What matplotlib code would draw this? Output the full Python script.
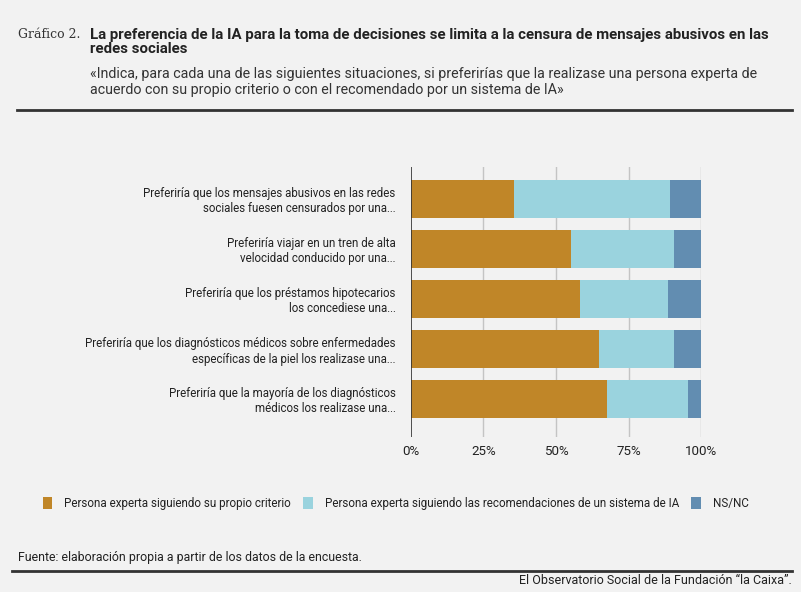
import matplotlib.pyplot as plt
from matplotlib.lines import Line2D
from matplotlib.patches import Patch

plt.rcParams['font.family'] = ['Roboto', 'DejaVu Sans']

categories = [
    "Preferiría que los mensajes abusivos en las redes\nsociales fuesen censurados por una...",
    "Preferiría viajar en un tren de alta\nvelocidad conducido por una...",
    "Preferiría que los préstamos hipotecarios\nlos concediese una...",
    "Preferiría que los diagnósticos médicos sobre enfermedades\nespecíficas de la piel los realizase una...",
    "Preferiría que la mayoría de los diagnósticos\nmédicos los realizase una...",
]
propio = [35.6, 55.2, 58.3, 64.9, 67.5]
sistema_ia = [53.6, 35.3, 30.2, 25.6, 27.8]
ns_nc = [10.8, 9.5, 11.5, 9.5, 4.7]
series_names = [
    "Persona experta siguiendo su propio criterio",
    "Persona experta siguiendo las recomendaciones de un sistema de IA",
    "NS/NC",
]
colors = ["#c08628", "#9ad3de", "#628db1"]
bg = "#f2f2f2"

W, H = 801, 592
fig = plt.figure(figsize=(W / 100, H / 100), dpi=100, facecolor=bg)

def fx(px):
    return px / W

def fy(py):
    return 1 - py / H

ax = fig.add_axes([fx(410.7), fy(437), fx(701.3 - 410.7), (437 - 167) / H])
ax.set_facecolor(bg)

ypos = list(range(len(categories)))
left = [0] * len(categories)
for vals, col in zip([propio, sistema_ia, ns_nc], colors):
    ax.barh(ypos, vals, left=left, height=0.75, color=col, zorder=3)
    left = [a + b for a, b in zip(left, vals)]

ax.set_xlim(0, 100)
ax.set_ylim(4.76, -0.64)
ax.set_xticks([0, 25, 50, 75, 100])
ax.set_xticklabels(["0%", "25%", "50%", "75%", "100%"], fontsize=9.6, color="#222222")
ax.set_yticks(ypos)
ax.set_yticklabels(categories, fontsize=8.3, color="#222222", multialignment="right")
ax.tick_params(length=0, pad=11)
ax.tick_params(axis="x", pad=6)
for s in ax.spines.values():
    s.set_visible(False)
for x in [25, 50, 75, 100]:
    ax.axvline(x, color="#c4c4c4", lw=1, zorder=1)
ax.axvline(0, color="#333333", lw=1.2, zorder=4)

# header
fig.text(fx(18), fy(35), "Gráfico 2.", family="DejaVu Serif", fontsize=9, color="#333333", va="center")
fig.text(fx(90), fy(42), "La preferencia de la IA para la toma de decisiones se limita a la censura de mensajes abusivos en las\nredes sociales",
         fontsize=10.8, fontweight="bold", color="#222222", va="center", linespacing=1.05)
fig.text(fx(90), fy(82), "«Indica, para cada una de las siguientes situaciones, si preferirías que la realizase una persona experta de\nacuerdo con su propio criterio o con el recomendado por un sistema de IA»",
         fontsize=10.3, color="#333333", va="center", linespacing=1.15)
fig.add_artist(Line2D([fx(17), fx(792)], [fy(110), fy(110)], color="#333333", lw=2))

# legend
handles = [Patch(facecolor=c, edgecolor="none") for c in colors]
fig.legend(handles, series_names, loc="center left", bbox_to_anchor=(fx(32), fy(503)),
           ncol=3, frameon=False, fontsize=8.4, handlelength=0.85, handleheight=1.2,
           handletextpad=1.0, columnspacing=1.05, labelcolor="#222222")

# footer
fig.text(fx(18), fy(557), "Fuente: elaboración propia a partir de los datos de la encuesta.", fontsize=8.9, color="#222222", va="center")
fig.add_artist(Line2D([fx(12), fx(792)], [fy(571), fy(571)], color="#333333", lw=2))
fig.text(fx(792), fy(581), "El Observatorio Social de la Fundación “la Caixa”.", fontsize=9.0, color="#222222", va="center", ha="right")

fig.savefig("out.png", dpi=100, facecolor=bg)
